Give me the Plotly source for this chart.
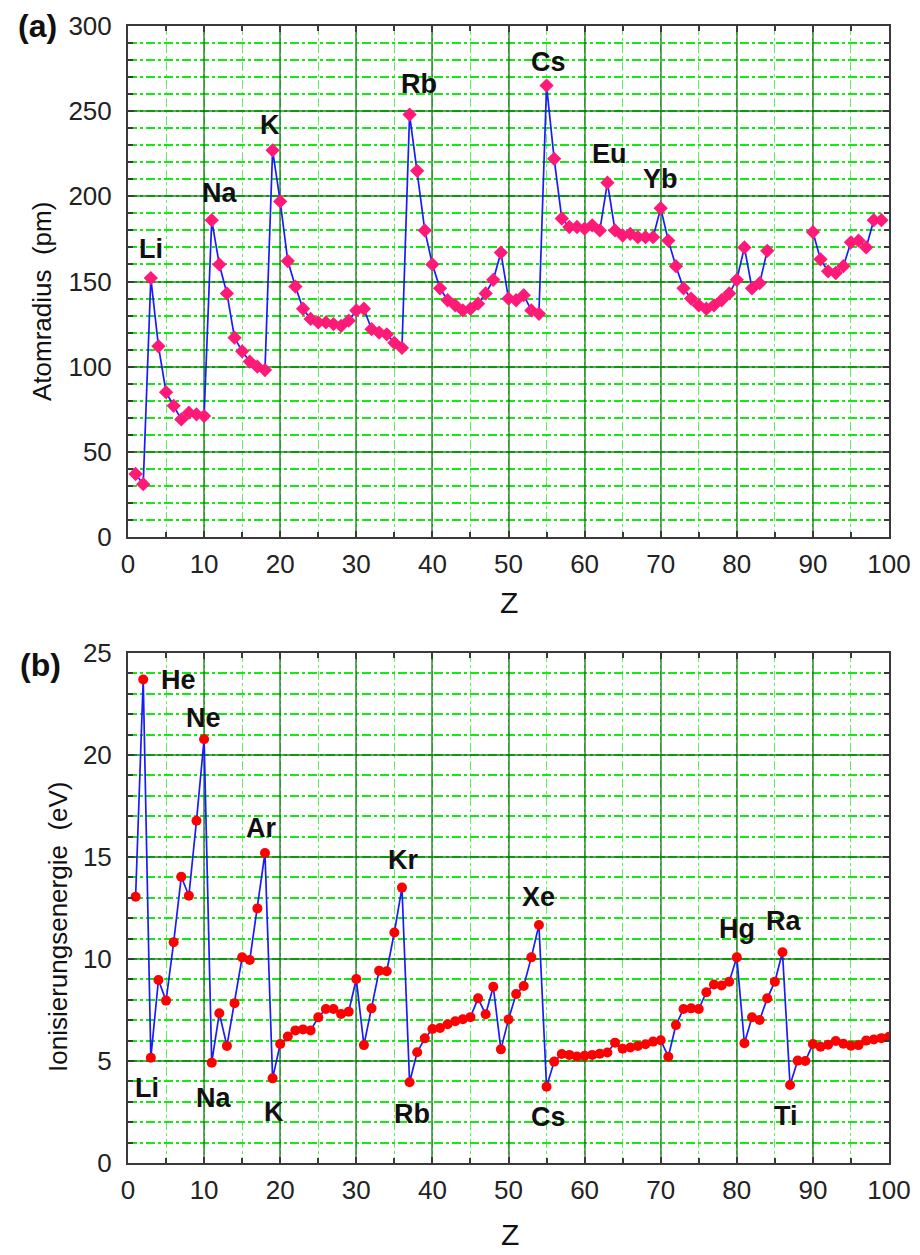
import plotly.graph_objects as go

# ---------------- data ----------------
Z_radius = list(range(1, 100))
radius_pm = [37, 31, 152, 112, 85, 77, 69, 73, 72, 71,
             186, 160, 143, 117, 109, 103, 100, 98, 227, 197,
             162, 147, 134, 128, 126, 126, 125, 124, 127, 133,
             134, 122, 120, 119, 114, 111, 248, 215, 180, 160,
             146, 139, 136, 133, 134, 137, 143, 151, 167, 140,
             139, 142, 133, 131, 265, 222, 187, 182, 182, 181,
             183, 180, 208, 180, 177, 178, 176, 176, 176, 193,
             174, 159, 146, 140, 136, 134, 136, 139, 143, 151,
             170, 146, 149, 168, None, None, None, None, None, 179,
             163, 156, 155, 159, 173, 174, 170, 186, 186]

Z_ion = list(range(1, 101))
ion_eV = [13.05, 23.7, 5.16, 8.97, 7.96, 10.82, 14.03, 13.1, 16.78, 20.77,
          4.92, 7.34, 5.74, 7.83, 10.08, 9.95, 12.48, 15.2, 4.15, 5.83,
          6.2, 6.5, 6.55, 6.5, 7.14, 7.55, 7.55, 7.3, 7.42, 9.02,
          5.78, 7.58, 9.43, 9.4, 11.3, 13.5, 3.96, 5.43, 6.11, 6.57,
          6.62, 6.8, 6.95, 7.05, 7.15, 8.07, 7.29, 8.64, 5.57, 7.04,
          8.28, 8.68, 10.08, 11.67, 3.74, 4.97, 5.34, 5.3, 5.22, 5.26,
          5.3, 5.36, 5.42, 5.9, 5.6, 5.66, 5.74, 5.82, 5.95, 6.02,
          5.21, 6.76, 7.55, 7.58, 7.55, 8.37, 8.75, 8.7, 8.89, 10.08,
          5.87, 7.14, 7.01, 8.07, 8.89, 10.33, 3.82, 5.02, 5.0, 5.83,
          5.7, 5.8, 5.98, 5.85, 5.75, 5.78, 6.0, 6.05, 6.12, 6.19]

top_labels = ["Li", "Na", "K", "Rb", "Cs", "Eu", "Yb"]
top_label_x = [3.0, 12.0, 18.7, 38.2, 55.3, 63.3, 70.0]
top_label_y = [169, 202, 242, 266, 279, 225, 210]

bot_labels = ["He", "Ne", "Ar", "Kr", "Xe", "Hg", "Ra",
              "Li", "Na", "K", "Rb", "Cs", "Ti"]
bot_label_x = [6.7, 9.9, 17.5, 36.2, 54.0, 80.0, 86.1,
               2.5, 11.3, 19.2, 37.3, 55.2, 86.4]
bot_label_y = [23.7, 21.8, 16.4, 14.85, 13.06, 11.45, 11.86,
               3.7, 3.17, 2.5, 2.4, 2.25, 2.3]

x_ticks = [0, 10, 20, 30, 40, 50, 60, 70, 80, 90, 100]
top_y_ticks = [0, 50, 100, 150, 200, 250, 300]
bot_y_ticks = [0, 5, 10, 15, 20, 25]

# ---------------- styling ----------------
FONT = "Liberation Sans, Arial, sans-serif"
MAJOR = "rgba(0,105,0,0.6)"
MINOR_H = "#12ea12"
MINOR_V = "rgba(40,235,40,0.75)"
AXIS = "#3a3a3a"

# the page body has an 8px margin; lay out in page pixels and shift
OFF = 8
W, H = 912, 1247


def fx(p):
    return (p - OFF) / W


def fy(p):
    return 1 - (p - OFF) / H


x_dom = [fx(128), fx(889)]
top_dom = [fy(537), fy(26)]
bot_dom = [fy(1163), fy(653)]

fig = go.Figure()

fig.add_trace(go.Scatter(
    x=Z_radius, y=radius_pm, mode="lines+markers",
    line=dict(color="#1a1aff", width=1.7),
    marker=dict(symbol="diamond", size=11, color="#ff1a78"),
    connectgaps=False, xaxis="x", yaxis="y", showlegend=False,
))
fig.add_trace(go.Scatter(
    x=Z_ion, y=ion_eV, mode="lines+markers",
    line=dict(color="#1a1aff", width=1.7),
    marker=dict(symbol="circle", size=10, color="#ff0000"),
    xaxis="x2", yaxis="y2", showlegend=False,
))


def xaxis_style(anchor):
    return dict(
        domain=x_dom, anchor=anchor, range=[0, 100],
        tickvals=x_ticks, ticktext=[str(v) for v in x_ticks],
        showgrid=True, gridcolor=MAJOR, gridwidth=1.6,
        showline=True, linecolor=AXIS, linewidth=2, mirror="ticks",
        ticks="inside", ticklen=6, tickcolor=AXIS, tickwidth=1.5,
        tickfont=dict(family=FONT, size=26, color="#222"),
        ticklabelstandoff=3, automargin=False,
        minor=dict(dtick=5, tick0=0, showgrid=True, gridcolor=MINOR_V,
                   gridwidth=1.2, griddash="dashdot",
                   ticks="inside", ticklen=5, tickcolor=AXIS),
        zeroline=False, fixedrange=True,
    )


def yaxis_style(anchor, dom, rng, ticks, minor_dt):
    return dict(
        domain=dom, anchor=anchor, range=rng,
        tickvals=ticks, ticktext=[str(v) for v in ticks],
        showgrid=True, gridcolor=MAJOR, gridwidth=1.6,
        showline=True, linecolor=AXIS, linewidth=2, mirror="ticks",
        ticks="inside", ticklen=6, tickcolor=AXIS, tickwidth=1.5,
        tickfont=dict(family=FONT, size=26, color="#222"),
        ticklabelstandoff=9, automargin=False,
        minor=dict(dtick=minor_dt, tick0=0, showgrid=True, gridcolor=MINOR_H,
                   gridwidth=1.6, griddash="dashdot",
                   ticks="inside", ticklen=5, tickcolor=AXIS),
        zeroline=False, fixedrange=True,
    )


fig.update_layout(
    width=W, height=H, autosize=False,
    margin=dict(l=0, r=0, t=0, b=0, pad=0, autoexpand=False),
    paper_bgcolor="white", plot_bgcolor="white",
    xaxis=xaxis_style("y"),
    yaxis=yaxis_style("x", top_dom, [0, 300], top_y_ticks, 10),
    xaxis2=xaxis_style("y2"),
    yaxis2=yaxis_style("x2", bot_dom, [0, 25], bot_y_ticks, 1),
)

ann = []
for t, x, y in zip(top_labels, top_label_x, top_label_y):
    ann.append(dict(text="<b>%s</b>" % t, x=x, y=y, xref="x", yref="y",
                    showarrow=False, xanchor="center", yanchor="middle",
                    font=dict(family=FONT, size=27, color="#111")))
for t, x, y in zip(bot_labels, bot_label_x, bot_label_y):
    ann.append(dict(text="<b>%s</b>" % t, x=x, y=y, xref="x2", yref="y2",
                    showarrow=False, xanchor="center", yanchor="middle",
                    font=dict(family=FONT, size=27, color="#111")))

# panel labels and axis titles (positions in page pixels)
for text, (xp, yp), size, bold, angle in [
    ("(a)", (37, 26), 32, True, 0),
    ("(b)", (40, 665), 32, True, 0),
    ("Atomradius\u00a0\u00a0(pm)", (42, 302), 26, False, -90),
    ("Ionisierungsenergie\u00a0\u00a0(eV)", (58, 927), 26, False, -90),
    ("Z", (509, 603), 30, False, 0),
    ("Z", (510, 1234), 30, False, 0),
]:
    ann.append(dict(text=("<b>%s</b>" % text) if bold else text,
                    x=fx(xp), y=fy(yp), xref="paper", yref="paper",
                    showarrow=False, xanchor="center", yanchor="middle",
                    textangle=angle,
                    font=dict(family=FONT, size=size, color="#111")))

fig.update_layout(annotations=ann)

fig.write_html("out.html")
